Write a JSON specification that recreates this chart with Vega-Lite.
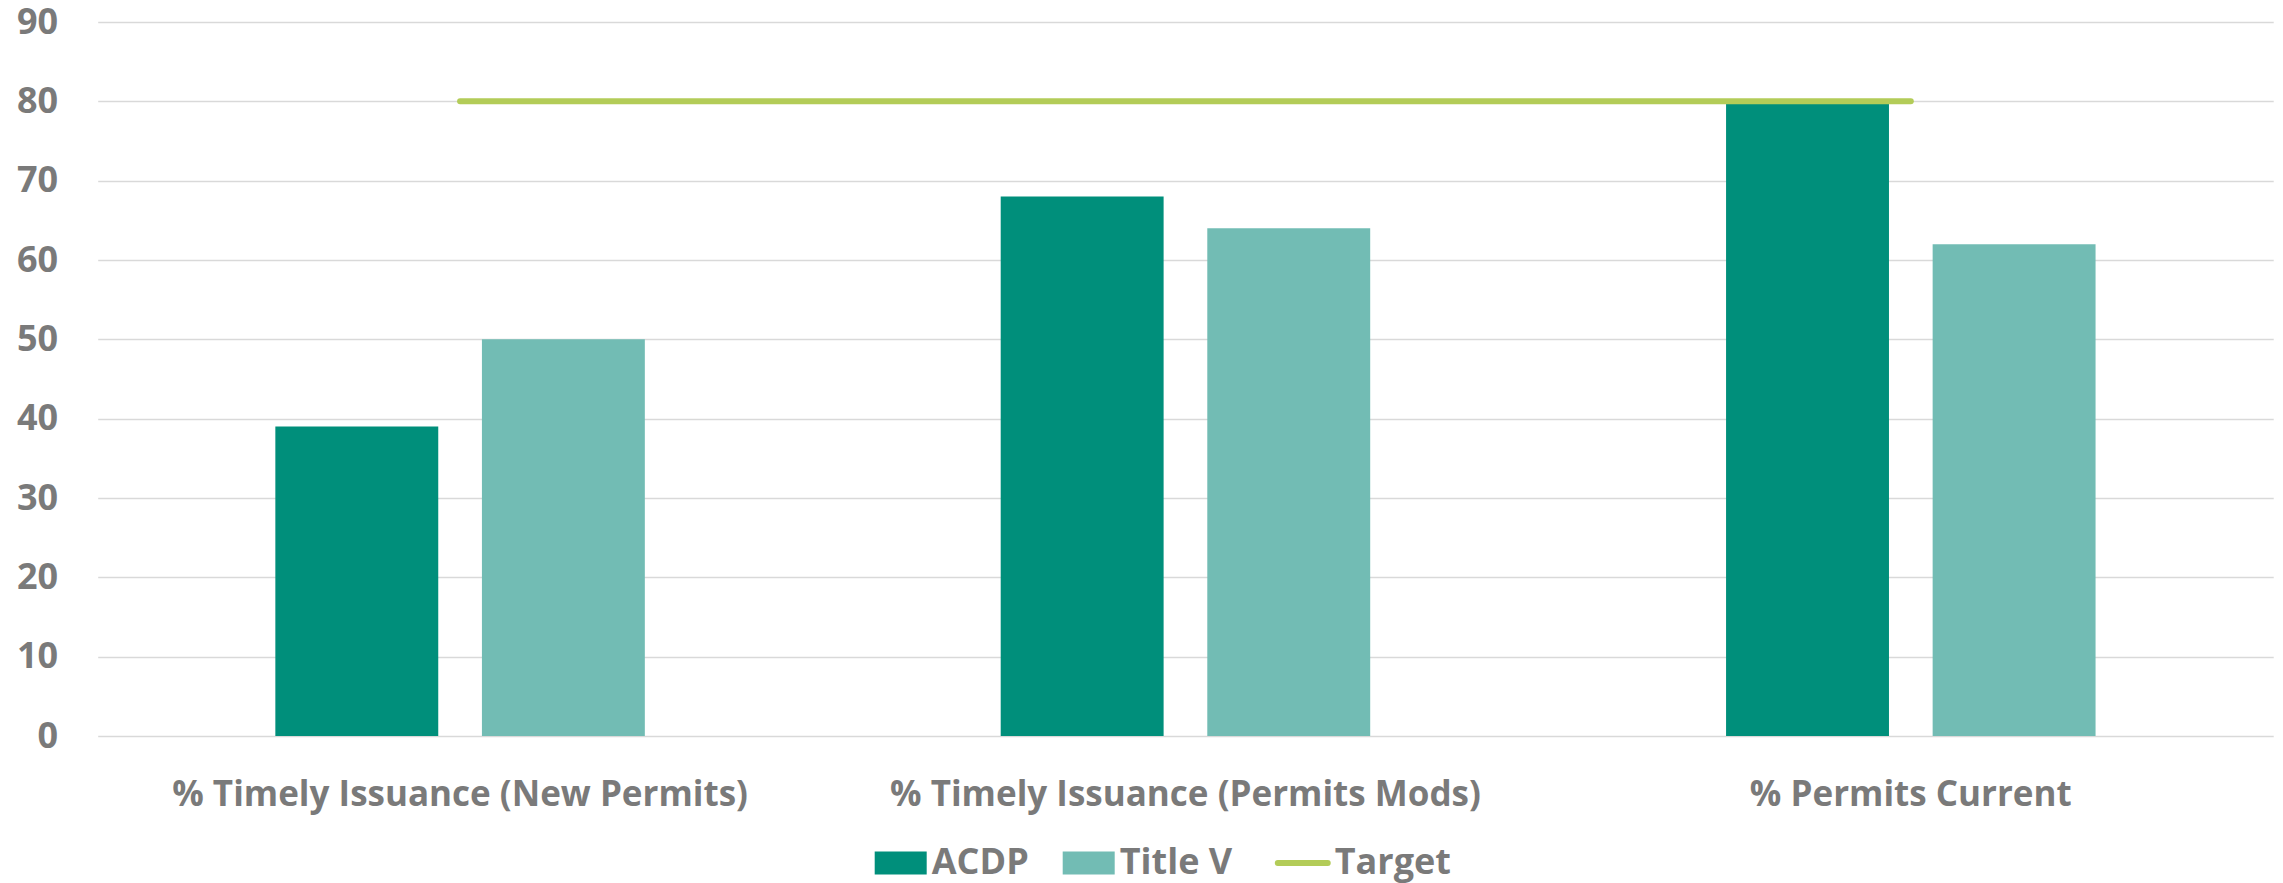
{
  "$schema": "https://vega.github.io/schema/vega-lite/v6.json",
  "width": 2175.5,
  "height": 714,
  "autosize": {"type": "none"},
  "padding": {"left": 97.7, "top": 22, "right": 9.8, "bottom": 147},
  "background": "white",
  "config": {"view": {"stroke": null}, "font": "Open Sans"},
  "data": {
    "values": [
      {"category": "% Timely Issuance (New Permits)", "series": "ACDP", "value": 39},
      {"category": "% Timely Issuance (New Permits)", "series": "Title V", "value": 50},
      {"category": "% Timely Issuance (Permits Mods)", "series": "ACDP", "value": 68},
      {"category": "% Timely Issuance (Permits Mods)", "series": "Title V", "value": 64},
      {"category": "% Permits Current", "series": "ACDP", "value": 80},
      {"category": "% Permits Current", "series": "Title V", "value": 62},
      {"category": "% Timely Issuance (New Permits)", "series": "Target", "value": 80},
      {"category": "% Timely Issuance (Permits Mods)", "series": "Target", "value": 80},
      {"category": "% Permits Current", "series": "Target", "value": 80}
    ]
  },
  "layer": [
    {
      "transform": [{"filter": "datum.series !== 'Target'"}],
      "mark": {"type": "bar"},
      "encoding": {
        "x": {
          "field": "category",
          "type": "nominal",
          "sort": ["% Timely Issuance (New Permits)", "% Timely Issuance (Permits Mods)", "% Permits Current"],
          "scale": {"paddingInner": 0.4906, "paddingOuter": 0.2449},
          "axis": {
            "title": null,
            "labelAngle": 0,
            "domain": false,
            "ticks": false,
            "tickSize": 0,
            "labelFont": "Open Sans",
            "labelFontSize": 35,
            "labelFontWeight": "bold",
            "labelColor": "#7a7a7a",
            "labelPadding": 41,
            "labelLimit": 0
          }
        },
        "xOffset": {
          "field": "series",
          "type": "nominal",
          "sort": ["ACDP", "Title V"],
          "scale": {"paddingInner": 0.2114, "paddingOuter": 0}
        },
        "y": {
          "field": "value",
          "type": "quantitative",
          "scale": {"domain": [0, 90], "nice": false},
          "axis": {
            "title": null,
            "values": [0, 10, 20, 30, 40, 50, 60, 70, 80, 90],
            "domain": false,
            "ticks": false,
            "tickSize": 0,
            "grid": true,
            "gridColor": "#d9d9d9",
            "gridWidth": 1.4,
            "labelFont": "Open Sans",
            "labelFontSize": 36,
            "labelFontWeight": "bold",
            "labelColor": "#7a7a7a",
            "labelPadding": 40
          }
        },
        "color": {
          "field": "series",
          "type": "nominal",
          "scale": {"domain": ["ACDP", "Title V", "Target"], "range": ["#008F7B", "#72BCB4", "#B3CC58"]},
          "legend": {
            "title": null,
            "orient": "none",
            "direction": "horizontal",
            "legendX": 785,
            "legendY": 823,
            "padding": 0,
            "symbolSize": 2704,
            "labelFont": "Open Sans",
            "labelFontSize": 36,
            "labelFontWeight": "bold",
            "labelColor": "#7a7a7a",
            "labelOffset": 13,
            "columnPadding": 33,
            "encode": {
              "symbols": {
                "update": {
                  "shape": {"signal": "datum.value === 'Target' ? 'M-1.38,0H0.54' : 'M-1,-0.4423H1V0.4423H-1Z'"},
                  "fill": {"signal": "datum.value === 'ACDP' ? '#008F7B' : datum.value === 'Title V' ? '#72BCB4' : 'transparent'"},
                  "stroke": {"signal": "datum.value === 'Target' ? '#B3CC58' : 'transparent'"},
                  "strokeWidth": {"signal": "datum.value === 'Target' ? 6 : 0"},
                  "strokeCap": {"value": "round"},
                  "opacity": {"value": 1},
                  "fillOpacity": {"value": 1}
                }
              },
              "labels": {
                "update": {
                  "dx": {"signal": "datum.value === 'Target' ? -10 : 0"}
                }
              }
            }
          }
        }
      }
    },
    {
      "transform": [{"filter": "datum.series === 'Target'"}],
      "mark": {"type": "line", "strokeWidth": 6, "strokeCap": "round"},
      "encoding": {
        "x": {
          "field": "category",
          "type": "nominal",
          "sort": ["% Timely Issuance (New Permits)", "% Timely Issuance (Permits Mods)", "% Permits Current"]
        },
        "y": {"field": "value", "type": "quantitative"},
        "color": {"field": "series", "type": "nominal"}
      }
    }
  ]
}
